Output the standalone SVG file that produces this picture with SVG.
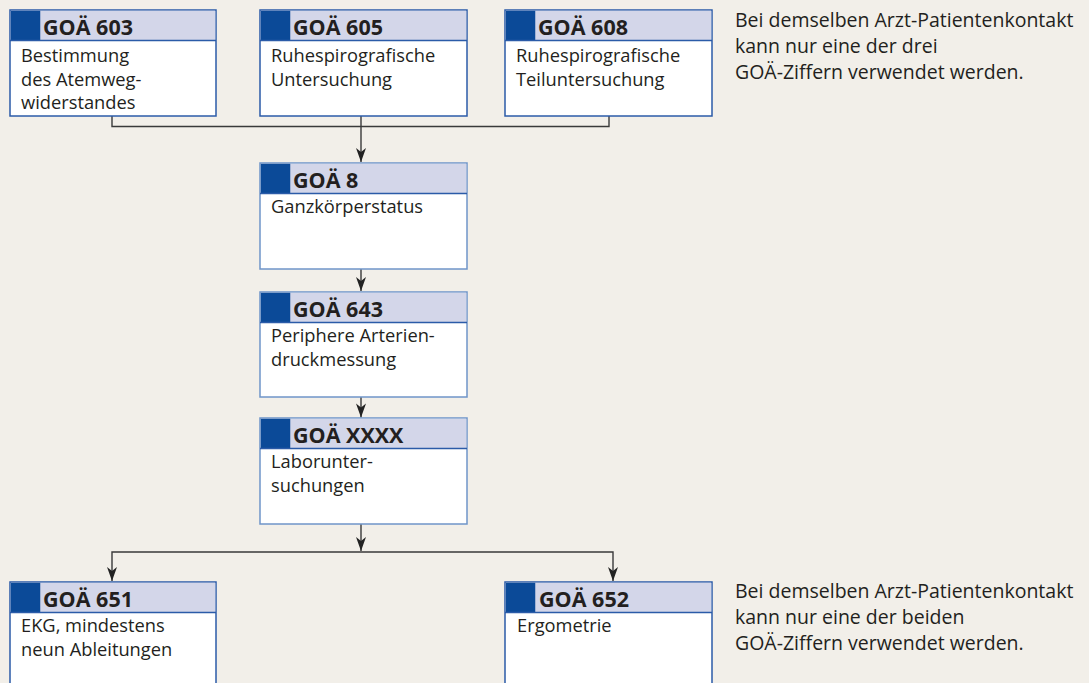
<svg xmlns="http://www.w3.org/2000/svg" width="1089" height="683" viewBox="0 0 1089 683">
<style>
.box{fill:#ffffff;stroke:#2b5ba8;stroke-width:1.5}
.boxl{fill:#ffffff;stroke:#6f95c9;stroke-width:1.5}
.hdr{fill:#d3d6e9}
.sq{fill:#0b4a98}
.sep{stroke:#2b5ba8;stroke-width:1.5}
.h{font-family:"Open Sans","Noto Sans",sans-serif;font-weight:bold;font-size:21.5px;fill:#231f20}
.t{font-family:"Open Sans","Noto Sans",sans-serif;font-size:18.3px;fill:#231f20}
.n{font-family:"Open Sans","Noto Sans",sans-serif;font-size:19.5px;fill:#231f20}
.c{fill:none;stroke:#3a3a3a;stroke-width:1.4}
</style>
<defs>
<marker id="ah" markerUnits="userSpaceOnUse" markerWidth="16" markerHeight="12" viewBox="-15 -6 16 12" refX="0" refY="0" orient="auto">
<path d="M0,0 L-14,-5 L-10,0 L-14,5 Z" fill="#222222"/>
</marker>
</defs>
<rect width="1089" height="683" fill="#f2efe9"/>
<g id="connectors">
<path class="c" d="M112,116 V126.5 H609 V116"/>
<path class="c" d="M361,116 V162" marker-end="url(#ah)"/>
<path class="c" d="M361,269 V291" marker-end="url(#ah)"/>
<path class="c" d="M361,397 V417.5" marker-end="url(#ah)"/>
<path class="c" d="M361,524 V551" marker-end="url(#ah)"/>
<path class="c" d="M361,552 H112 V581" marker-end="url(#ah)"/>
<path class="c" d="M361,552 H613 V581" marker-end="url(#ah)"/>
</g>
<g id="n603">
<rect class="box" x="10" y="10" width="206" height="106"/>
<rect class="hdr" x="10.75" y="10.75" width="204.5" height="29.5"/>
<rect class="sq" x="10.75" y="10.75" width="29.5" height="29.5"/>
<line class="sep" x1="10" y1="40.5" x2="216" y2="40.5"/>
<text class="h" x="43" y="35">GOÄ 603</text>
<text class="t" x="21" y="62">Bestimmung</text>
<text class="t" x="21" y="85.5">des Atemweg-</text>
<text class="t" x="21" y="109">widerstandes</text>
</g>
<g id="n605">
<rect class="box" x="260" y="10" width="207" height="106"/>
<rect class="hdr" x="260.75" y="10.75" width="205.5" height="29.5"/>
<rect class="sq" x="260.75" y="10.75" width="29.5" height="29.5"/>
<line class="sep" x1="260" y1="40.5" x2="467" y2="40.5"/>
<text class="h" x="293" y="35">GOÄ 605</text>
<text class="t" x="271" y="62">Ruhespirografische</text>
<text class="t" x="271" y="85.5">Untersuchung</text>
</g>
<g id="n608">
<rect class="box" x="505" y="10" width="207" height="106"/>
<rect class="hdr" x="505.75" y="10.75" width="205.5" height="29.5"/>
<rect class="sq" x="505.75" y="10.75" width="29.5" height="29.5"/>
<line class="sep" x1="505" y1="40.5" x2="712" y2="40.5"/>
<text class="h" x="538" y="35">GOÄ 608</text>
<text class="t" x="516" y="62">Ruhespirografische</text>
<text class="t" x="516" y="85.5">Teiluntersuchung</text>
</g>
<g id="note1">
<text class="n" x="735" y="27">Bei demselben Arzt-Patientenkontakt</text>
<text class="n" x="735" y="53">kann nur eine der drei</text>
<text class="n" x="735" y="79">GOÄ-Ziffern verwendet werden.</text>
</g>
<g id="n8">
<rect class="boxl" x="260" y="163" width="207" height="106"/>
<rect class="hdr" x="260.75" y="163.75" width="205.5" height="29.5"/>
<rect class="sq" x="260.75" y="163.75" width="29.5" height="29.5"/>
<line class="sep" x1="260" y1="193.5" x2="467" y2="193.5"/>
<text class="h" x="293" y="188">GOÄ 8</text>
<text class="t" x="271" y="213">Ganzkörperstatus</text>
</g>
<g id="n643">
<rect class="boxl" x="260" y="292" width="207" height="105"/>
<rect class="hdr" x="260.75" y="292.75" width="205.5" height="29.5"/>
<rect class="sq" x="260.75" y="292.75" width="29.5" height="29.5"/>
<line class="sep" x1="260" y1="322.5" x2="467" y2="322.5"/>
<text class="h" x="293" y="317">GOÄ 643</text>
<text class="t" x="271" y="342">Periphere Arterien-</text>
<text class="t" x="271" y="365.5">druckmessung</text>
</g>
<g id="nXXXX">
<rect class="boxl" x="260" y="418" width="207" height="106"/>
<rect class="hdr" x="260.75" y="418.75" width="205.5" height="29.5"/>
<rect class="sq" x="260.75" y="418.75" width="29.5" height="29.5"/>
<line class="sep" x1="260" y1="448.5" x2="467" y2="448.5"/>
<text class="h" x="293" y="443">GOÄ XXXX</text>
<text class="t" x="271" y="468">Laborunter-</text>
<text class="t" x="271" y="491.5">suchungen</text>
</g>
<g id="n651">
<rect class="box" x="10" y="582" width="206" height="110"/>
<rect class="hdr" x="10.75" y="582.75" width="204.5" height="29.5"/>
<rect class="sq" x="10.75" y="582.75" width="29.5" height="29.5"/>
<line class="sep" x1="10" y1="612.5" x2="216" y2="612.5"/>
<text class="h" x="43" y="607">GOÄ 651</text>
<text class="t" x="21" y="632">EKG, mindestens</text>
<text class="t" x="21" y="655.5">neun Ableitungen</text>
</g>
<g id="n652">
<rect class="box" x="505" y="582" width="207" height="110"/>
<rect class="hdr" x="505.75" y="582.75" width="205.5" height="29.5"/>
<rect class="sq" x="505.75" y="582.75" width="29.5" height="29.5"/>
<line class="sep" x1="505" y1="612.5" x2="712" y2="612.5"/>
<text class="h" x="539" y="607">GOÄ 652</text>
<text class="t" x="517" y="632">Ergometrie</text>
</g>
<g id="note2">
<text class="n" x="735" y="598">Bei demselben Arzt-Patientenkontakt</text>
<text class="n" x="735" y="624">kann nur eine der beiden</text>
<text class="n" x="735" y="650">GOÄ-Ziffern verwendet werden.</text>
</g>
</svg>
